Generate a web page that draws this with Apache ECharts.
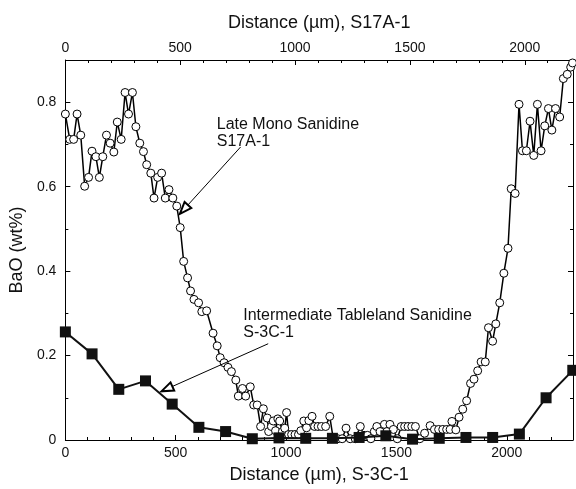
<!DOCTYPE html>
<html>
<head>
<meta charset="utf-8">
<script src="https://cdn.jsdelivr.net/npm/echarts@6/dist/echarts.min.js"></script>
<style>html,body{margin:0;padding:0;background:#fff}#c{width:576px;height:489px}</style>
</head>
<body>
<div id="c"></div>
<script>
// S17A-1 (top axis, µm) — Late Mono Sanidine
const s17aDist = [0,19,36,51,67,84,101,116,133,148,163,179,195,211,226,243,260,275,292,307,324,340,354,372,386,402,419,435,451,468,485,500,515,532,545,560,580,594,615,643,661,674,691,708,723,742,753,771,785,805,820,835,850,862,879,885,897,905,915,925,933,945,955,963,972,985,1000,1015,1025,1038,1050,1060,1074,1085,1100,1115,1133,1151,1166,1186,1205,1222,1240,1262,1284,1300,1315,1330,1345,1356,1370,1389,1400,1413,1428,1445,1462,1477,1492,1508,1524,1543,1564,1588,1607,1625,1643,1660,1675,1683,1700,1714,1730,1747,1764,1779,1795,1810,1828,1842,1860,1874,1891,1909,1927,1941,1958,1975,1990,2007,2023,2039,2055,2071,2087,2103,2118,2134,2152,2168,2185,2200,2208];
const s17aBaO = [0.772,0.712,0.712,0.772,0.722,0.601,0.622,0.684,0.671,0.622,0.671,0.722,0.703,0.682,0.753,0.712,0.823,0.772,0.823,0.742,0.703,0.683,0.652,0.632,0.573,0.622,0.632,0.573,0.593,0.573,0.554,0.503,0.423,0.384,0.353,0.333,0.325,0.304,0.306,0.253,0.223,0.195,0.183,0.172,0.162,0.142,0.104,0.122,0.104,0.126,0.083,0.083,0.032,0.074,0.052,0.020,0.032,0.045,0.022,0.050,0.045,0.020,0.028,0.065,0.013,0.013,0.013,0.013,0.022,0.045,0.029,0.046,0.056,0.032,0.032,0.032,0.032,0.056,0.004,0.003,0.003,0.028,0.003,0.003,0.032,0.011,0.011,0.003,0.020,0.032,0.020,0.037,0.020,0.037,0.025,0.003,0.032,0.032,0.032,0.032,0.032,0.003,0.016,0.034,0.025,0.025,0.025,0.025,0.025,0.044,0.024,0.054,0.073,0.093,0.134,0.144,0.164,0.185,0.185,0.266,0.234,0.275,0.325,0.395,0.454,0.595,0.584,0.795,0.685,0.685,0.755,0.674,0.795,0.685,0.744,0.785,0.734,0.785,0.765,0.856,0.866,0.883,0.893];
// S-3C-1 (bottom axis, µm) — Intermediate Tableland Sanidine
const s3cDist = [0,121,242,363,484,605,726,847,968,1089,1210,1331,1452,1573,1694,1815,1936,2057,2178,2299];
const s3cBaO = [0.256,0.204,0.120,0.140,0.085,0.030,0.020,0.003,0.005,0.004,0.004,0.006,0.010,0.002,0.004,0.006,0.006,0.014,0.100,0.165];
// ticks
const xTickStep = 500;
const yTickStep = 0.2;
const bottomMax = 2300, topMax = 2210, yMax = 0.9;

const FONT = 'Liberation Sans';
const TXT = '#111';
const chart = echarts.init(document.getElementById('c'), null, {renderer: 'canvas'});

function xFmt(v){ return (v % xTickStep === 0) ? String(v) : ''; }
function yFmt(v){ const r = v / yTickStep; return Math.abs(r - Math.round(r)) < 1e-6 ? String(+v.toFixed(1)) : ''; }

const axisCommon = {
  axisLine: {show: true, onZero: false, lineStyle: {color: '#000', width: 1}},
  axisTick: {show: true, inside: true, length: 5, lineStyle: {color: '#000'}},
  minorTick: {show: true, splitNumber: 5, length: 3, lineStyle: {color: '#000'}},
  splitLine: {show: false},
  nameTextStyle: {fontFamily: FONT, fontSize: 18, color: TXT},
};

const option = {
  animation: false,
  backgroundColor: '#fff',
  grid: {left: 64, right: 3, top: 60, bottom: 47, containLabel: false},
  xAxis: [
    Object.assign({}, axisCommon, {
      type: 'value', position: 'bottom', min: 0, max: bottomMax, interval: xTickStep,
      name: 'Distance (µm), S-3C-1', nameLocation: 'middle', nameGap: 26,
      axisLabel: {fontFamily: FONT, fontSize: 14, color: TXT, margin: 6, formatter: xFmt}
    }),
    Object.assign({}, axisCommon, {
      type: 'value', position: 'top', min: 0, max: topMax, interval: xTickStep,
      name: 'Distance (µm), S17A-1', nameLocation: 'middle', nameGap: 28,
      axisLabel: {fontFamily: FONT, fontSize: 14, color: TXT, margin: 5, formatter: xFmt}
    })
  ],
  yAxis: [
    Object.assign({}, axisCommon, {
      type: 'value', position: 'left', min: 0, max: yMax, interval: yTickStep,
      minorTick: {show: true, splitNumber: 2, length: 3, lineStyle: {color: '#000'}},
      name: 'BaO (wt%)', nameLocation: 'middle', nameGap: 31, nameRotate: 90,
      axisLabel: {fontFamily: FONT, fontSize: 14, color: TXT, margin: 9, formatter: yFmt}
    }),
    Object.assign({}, axisCommon, {
      type: 'value', position: 'right', min: 0, max: yMax, interval: yTickStep,
      minorTick: {show: true, splitNumber: 2, length: 3, lineStyle: {color: '#000'}},
      axisLabel: {show: false}
    })
  ],
  series: [
    {
      name: 'S17A-1', type: 'line', xAxisIndex: 1, yAxisIndex: 0,
      data: s17aDist.map((d, i) => [d, s17aBaO[i]]),
      symbol: 'circle', symbolSize: 8, showAllSymbol: true,
      itemStyle: {color: '#fff', borderColor: '#000', borderWidth: 1},
      lineStyle: {color: '#000', width: 1.5},
      clip: false, z: 2,
      markLine: {
        silent: true, symbol: ['none', 'emptyTriangle'], symbolSize: [9, 12],
        lineStyle: {color: '#000', width: 1, type: 'solid'}, label: {show: false},
        data: [[{coord: [763, 0.694]}, {coord: [516, 0.546]}]]
      }
    },
    {
      name: 'S-3C-1', type: 'line', xAxisIndex: 0, yAxisIndex: 0,
      data: s3cDist.map((d, i) => [d, s3cBaO[i]]),
      symbol: 'rect', symbolSize: 11,
      itemStyle: {color: '#111'},
      lineStyle: {color: '#111', width: 2},
      clip: false, z: 3,
      markLine: {
        silent: true, symbol: ['none', 'emptyTriangle'], symbolSize: [9, 12],
        lineStyle: {color: '#000', width: 1, type: 'solid'}, label: {show: false},
        data: [[{coord: [919, 0.228]}, {coord: [460, 0.121]}]]
      }
    }
  ]
};
chart.setOption(option);

const p1 = chart.convertToPixel({xAxisIndex: 1, yAxisIndex: 0}, [659, 0.727]);
const p2 = chart.convertToPixel({xAxisIndex: 0, yAxisIndex: 0}, [806, 0.275]);
chart.setOption({
  graphic: [
    {type: 'text', left: p1[0], top: p1[1] - 17, z: 10,
     style: {text: 'Late Mono Sanidine\nS17A-1', font: '16px "Liberation Sans"', fill: TXT, lineHeight: 17}},
    {type: 'text', left: p2[0], top: p2[1] - 17, z: 10,
     style: {text: 'Intermediate Tableland Sanidine\nS-3C-1', font: '16px "Liberation Sans"', fill: TXT, lineHeight: 17}}
  ]
});
</script>
</body>
</html>
